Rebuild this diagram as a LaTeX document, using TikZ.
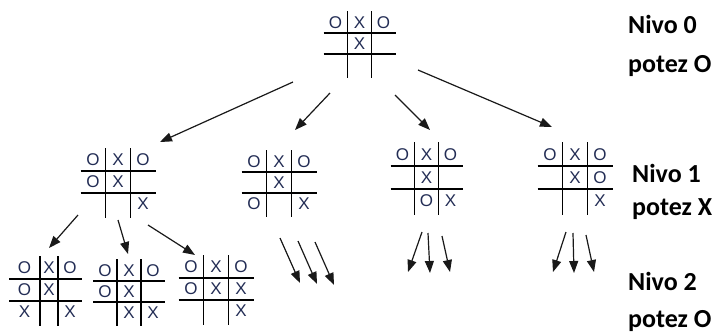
\documentclass[tikz,border=0pt]{standalone}
\usepackage{fontspec}
\setmainfont{Liberation Sans}
\newfontfamily\labelfont{Carlito}
\usetikzlibrary{matrix,arrows.meta}

\definecolor{cellcol}{RGB}{35,45,85}
\definecolor{linecol}{RGB}{25,25,25}

\newcommand\cellfont{\fontsize{17pt}{18pt}\selectfont}

\newcommand\drawgrid[1]{%
  \draw[gridline] ([yshift=1pt]#1-1-1.north east) -- ([yshift=-3pt]#1-3-1.south east);
  \draw[gridline] ([yshift=1pt]#1-1-2.north east) -- ([yshift=-3pt]#1-3-2.south east);
  \draw[gridline] (#1-1-1.south west) -- (#1-1-3.south east);
  \draw[gridline] (#1-2-1.south west) -- (#1-2-3.south east);}

\tikzset{
  board/.style 2 args={matrix of nodes, nodes in empty cells,
    inner sep=0pt, outer sep=0pt, column sep=0pt, row sep=0pt,
    font=\cellfont, text=cellcol,
    nodes={minimum width=#1, minimum height=#2, inner sep=0pt, outer sep=0pt,
      anchor=center, font=\cellfont, text=cellcol}},
  gridline/.style={draw=black, line width=1.5pt},
  move/.style={draw=linecol, line width=1.2pt,
    -{Triangle[length=12pt,width=9pt]}},
  levellabel/.style={anchor=base west, inner sep=0pt,
    font=\labelfont\bfseries\fontsize{26}{28}\selectfont}
}

\begin{document}
\begin{tikzpicture}[x=1pt,y=-1pt]
\useasboundingbox[fill=white] (0,0) rectangle (716,333);

% level 0
\matrix (b0) [board={24pt}{21pt}] at (359.5,43.5) { O & X & O \\ & X & \\ & & \\ };
\drawgrid{b0}

% level 1
\matrix (ba) [board={25pt}{22pt}] at (118,182) { O & X & O \\ O & X & \\ & & X \\ };
\drawgrid{ba}
\matrix (bb) [board={25pt}{21pt}] at (279,182.5) { O & X & O \\ & X & \\ O & & X \\ };
\drawgrid{bb}
\matrix (bc) [board={24pt}{23pt}] at (426.5,177.5) { O & X & O \\ & X & \\ & O & X \\ };
\drawgrid{bc}
\matrix (bd) [board={25pt}{23pt}] at (575,177.5) { O & X & O \\ & X & O \\ & & X \\ };
\drawgrid{bd}

% level 2 (the first board has uneven columns)
\matrix (be) [board={24pt}{22pt},
  column 1/.style={nodes={minimum width=31pt}},
  column 2/.style={nodes={minimum width=18pt}},
  column 3/.style={nodes={minimum width=24pt}}]
  at (45.5,290) { O & X & O \\ O & X & \\ X & & X \\ };
\drawgrid{be}
\matrix (bf) [board={24pt}{21pt}] at (129,291.5) { O & X & O \\ O & X & \\ & X & X \\ };
\drawgrid{bf}
\matrix (bg) [board={25pt}{22pt}] at (216,289) { O & X & O \\ O & X & X \\ & & X \\ };
\drawgrid{bg}

% arrow ends
\coordinate (t0a) at (293,82);   \coordinate (h0a) at (160,142);
\coordinate (t0b) at (330,93);   \coordinate (h0b) at (295,130);
\coordinate (t0c) at (395,95);   \coordinate (h0c) at (430,130);
\coordinate (t0d) at (418,70);   \coordinate (h0d) at (552,127);
\coordinate (tae) at (78,215);   \coordinate (hae) at (49,248);
\coordinate (taf) at (118,220);  \coordinate (haf) at (128,254);
\coordinate (tag) at (148,225);  \coordinate (hag) at (195,255);
\coordinate (tb1) at (280,238);  \coordinate (hb1) at (300,283);
\coordinate (tb2) at (298,241);  \coordinate (hb2) at (317,284);
\coordinate (tb3) at (315,242);  \coordinate (hb3) at (334,285);
\coordinate (tc1) at (422,232);  \coordinate (hc1) at (408,272);
\coordinate (tc2) at (428,233);  \coordinate (hc2) at (430,273);
\coordinate (tc3) at (442,236);  \coordinate (hc3) at (450,272);
\coordinate (td1) at (566,232);  \coordinate (hd1) at (553,272);
\coordinate (td2) at (573,233);  \coordinate (hd2) at (574,273);
\coordinate (td3) at (586,235);  \coordinate (hd3) at (594,272);

\foreach \p in {0a,0b,0c,0d,ae,af,ag,b1,b2,b3,c1,c2,c3,d1,d2,d3}
  \draw[move] (t\p) -- (h\p);

% level captions
\node[levellabel] (n0) at (628,33)  {Nivo 0};
\node[levellabel] (p0) at (628,72)  {potez O};
\node[levellabel] (n1) at (632,182) {Nivo 1};
\node[levellabel] (p1) at (632,215) {potez X};
\node[levellabel] (n2) at (628,290) {Nivo 2};
\node[levellabel] (p2) at (628,327) {potez O};
\end{tikzpicture}
\end{document}
